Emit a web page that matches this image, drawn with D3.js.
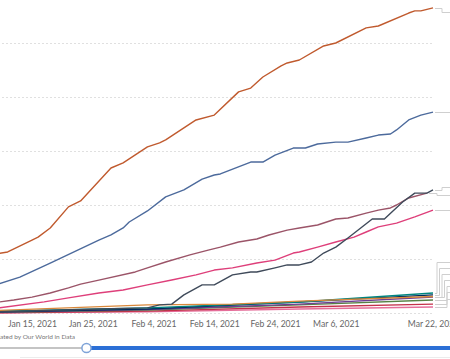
<!DOCTYPE html>
<html><head><meta charset="utf-8">
<script src="https://cdn.jsdelivr.net/npm/d3@7"></script>
<style>html,body{margin:0;padding:0;background:#fff;overflow:hidden}svg{display:block}</style>
</head><body><svg id="c" width="450" height="359"></svg>
<script>
// ---- data (millions of doses) ----
const tickDates = ["2021-01-15","2021-01-25","2021-02-04","2021-02-14","2021-02-24","2021-03-06","2021-03-22"];
const yGridValues = [0,20,40,60,80,100];
const footerText = "Source: Official data collated by Our World in Data";

const unitedStates = [["2021-01-09",21.9],["2021-01-11",22.6],["2021-01-15",27.0],["2021-01-16",28.1],["2021-01-18",31.5],["2021-01-21",39.3],["2021-01-23",41.5],["2021-01-28",53.7],["2021-01-30",55.6],["2021-02-03",61.5],["2021-02-05",63.0],["2021-02-06",64.1],["2021-02-11",71.5],["2021-02-14",73.3],["2021-02-18",81.9],["2021-02-20",83.3],["2021-02-22",87.4],["2021-02-25",91.5],["2021-02-26",92.6],["2021-02-28",93.7],["2021-03-04",98.9],["2021-03-06",100.0],["2021-03-11",105.6],["2021-03-13",106.3],["2021-03-18",111.1],["2021-03-19",111.9],["2021-03-20",111.9],["2021-03-22",113.0]];
const china = [["2021-01-09",10.4],["2021-01-13",13.3],["2021-01-18",18.5],["2021-01-26",27.0],["2021-01-28",28.9],["2021-01-30",31.5],["2021-01-31",33.7],["2021-02-03",37.8],["2021-02-06",43.0],["2021-02-09",45.6],["2021-02-12",49.6],["2021-02-14",51.1],["2021-02-15",51.5],["2021-02-20",55.9],["2021-02-22",55.9],["2021-02-24",58.5],["2021-02-27",61.1],["2021-03-01",61.1],["2021-03-03",62.6],["2021-03-06",63.3],["2021-03-08",63.3],["2021-03-11",64.8],["2021-03-13",65.9],["2021-03-15",66.3],["2021-03-16",67.8],["2021-03-18",71.5],["2021-03-20",73.3],["2021-03-22",74.4]];
const europeanUnion = [["2021-01-09",3.9],["2021-01-12",4.8],["2021-01-15",5.9],["2021-01-18",7.4],["2021-01-21",9.3],["2021-01-23",10.7],["2021-01-26",12.2],["2021-02-01",15.2],["2021-02-03",16.7],["2021-02-06",18.9],["2021-02-10",21.5],["2021-02-13",23.3],["2021-02-15",24.4],["2021-02-18",26.3],["2021-02-21",27.4],["2021-02-23",28.9],["2021-02-26",30.7],["2021-02-28",31.5],["2021-03-03",32.6],["2021-03-06",34.8],["2021-03-08",35.2],["2021-03-11",37.0],["2021-03-13",38.1],["2021-03-15",38.9],["2021-03-16",40.0],["2021-03-18",42.6],["2021-03-21",44.4]];
const india = [["2021-01-09",0.4],["2021-01-26",1.5],["2021-02-03",1.9],["2021-02-05",3.0],["2021-02-07",3.3],["2021-02-09",6.7],["2021-02-12",10.4],["2021-02-14",10.4],["2021-02-17",14.1],["2021-02-20",15.2],["2021-02-21",15.2],["2021-02-24",16.7],["2021-02-26",17.8],["2021-02-28",17.8],["2021-03-02",18.9],["2021-03-04",22.2],["2021-03-06",24.4],["2021-03-08",27.8],["2021-03-12",34.8],["2021-03-14",34.8],["2021-03-17",41.1],["2021-03-19",44.4],["2021-03-21",44.4],["2021-03-22",45.6]];
const unitedKingdom = [["2021-01-09",1.7],["2021-01-17",4.1],["2021-01-21",5.6],["2021-01-26",7.4],["2021-01-30",8.5],["2021-02-03",10.4],["2021-02-07",12.2],["2021-02-11",14.1],["2021-02-14",15.9],["2021-02-17",16.7],["2021-02-21",18.5],["2021-02-24",19.6],["2021-02-27",22.2],["2021-02-28",22.6],["2021-03-03",24.4],["2021-03-06",26.3],["2021-03-09",28.1],["2021-03-11",30.0],["2021-03-13",31.9],["2021-03-16",33.3],["2021-03-19",35.6],["2021-03-22",38.1]];
const brazil  = [["2021-01-09",0.6],["2021-02-03",1.9],["2021-02-28",4.1],["2021-03-22",7.4]];
const germany = [["2021-01-09",0.4],["2021-02-03",1.5],["2021-02-28",4.1],["2021-03-22",6.7]];
const turkey  = [["2021-01-09",0.9],["2021-02-03",3.0],["2021-02-17",3.3],["2021-02-28",4.4],["2021-03-22",6.1]];
const france  = [["2021-01-09",0.3],["2021-02-03",1.3],["2021-02-28",3.3],["2021-03-22",5.9]];
const russia  = [["2021-01-09",0.2],["2021-02-03",1.1],["2021-02-28",3.0],["2021-03-22",4.8]];
const italy   = [["2021-01-09",0.1],["2021-02-03",0.7],["2021-02-28",2.2],["2021-03-22",3.3]];
const israel  = [["2021-01-09",0.05],["2021-02-03",0.4],["2021-02-28",1.5],["2021-03-22",2.2]];

const seriesList = [
  {name:"Israel", data:israel, color:"#e56e9a"},
  {name:"Italy", data:italy, color:"#c4314b"},
  {name:"Russia", data:russia, color:"#578145"},
  {name:"France", data:france, color:"#6d3e91"},
  {name:"Germany", data:germany, color:"#00295b"},
  {name:"Brazil", data:brazil, color:"#00847e"},
  {name:"Turkey", data:turkey, color:"#d9883b"},
  {name:"United Kingdom", data:unitedKingdom, color:"#de3f7a"},
  {name:"European Union", data:europeanUnion, color:"#9b5468"},
  {name:"India", data:india, color:"#3f4a5a"},
  {name:"China", data:china, color:"#4c6a9c"},
  {name:"United States", data:unitedStates, color:"#c05a2e"}
];

// ---- layout ----
const parse = d3.utcParse("%Y-%m-%d");
const x = d3.scaleUtc().domain([parse("2021-01-15"), parse("2021-03-22")]).range([32, 433]);
const y = d3.scaleLinear().domain([0, 100]).range([313, 43]);
const svg = d3.select("#c");
const font = "Lato, 'Noto Sans', sans-serif";

// gridlines
svg.append("g").selectAll("line").data(yGridValues).join("line")
  .attr("x1", -10).attr("x2", x(parse("2021-03-22")))
  .attr("y1", d => y(d) + 0.5).attr("y2", d => y(d) + 0.5)
  .attr("stroke", "#e0e0e0").attr("stroke-dasharray", "2,2").attr("stroke-width", 1);

// x axis labels
const xAxis = d3.axisBottom(x).tickValues(tickDates.map(parse)).tickFormat(d3.utcFormat("%b %-d, %Y")).tickSize(0).tickPadding(6);
const gx = svg.append("g").attr("transform", "translate(0,315)").call(xAxis);
gx.select(".domain").remove();
gx.selectAll("text").attr("font-family", font).attr("font-size", 8.6).attr("fill", "#666");

// leader lines for the (cropped) end labels
const endPt = s => { const l = s.data[s.data.length - 1]; return [x(parse(l[0])), y(l[1])]; };
const leaders = {
  "United States": {ly: 12, sx: 442}, "China": {ly: null}, "India": {ly: 187, sx: 442},
  "European Union": {ly: 195, sx: 437}, "United Kingdom": {ly: null},
  "Brazil": {ly: 262, sx: 437}, "Germany": {ly: 268, sx: 439.5}, "Turkey": {ly: 274, sx: 442},
  "France": {ly: 280, sx: 444.5}, "Russia": {ly: 286, sx: 447}, "Italy": {ly: 292, sx: 447}, "Israel": {ly: 299, sx: 447}
};
const gl = svg.append("g").attr("fill", "none").attr("stroke", "#cfcfcf").attr("stroke-width", 1);
seriesList.forEach(s => {
  const [ex, ey] = endPt(s);
  const L = leaders[s.name];
  let pts;
  if (L.ly === null) pts = [[ex + 2, ey], [452, ey]];
  else pts = [[ex + 2, ey], [L.sx, ey], [L.sx, L.ly], [452, L.ly]];
  gl.append("path").attr("d", d3.line()(pts.map(p => [p[0], Math.round(p[1]) + 0.5])));
});

// series lines
const line = d3.line().x(d => x(parse(d[0]))).y(d => y(d[1]));
svg.append("g").selectAll("path").data(seriesList).join("path")
  .attr("d", s => line(s.data)).attr("fill", "none")
  .attr("stroke", s => s.color).attr("stroke-width", 1.4).attr("stroke-linejoin", "round");

// footer (cropped on the left, as in the reference)
svg.append("text").attr("x", 75).attr("y", 339).attr("text-anchor", "end")
  .attr("font-family", font).attr("font-size", 6.5).attr("fill", "#777").text(footerText);

// timeline slider
const sY = 348, handleX = 86.5;
svg.append("line").attr("x1", -5).attr("x2", handleX).attr("y1", sY).attr("y2", sY).attr("stroke", "#c4c4c4").attr("stroke-width", 2);
svg.append("line").attr("x1", handleX).attr("x2", 455).attr("y1", sY).attr("y2", sY).attr("stroke", "#2b6fd6").attr("stroke-width", 4);
svg.append("circle").attr("cx", handleX).attr("cy", sY).attr("r", 4.6).attr("fill", "#fff").attr("stroke", "#7ea3d8").attr("stroke-width", 1.5);
svg.append("line").attr("x1", 20).attr("x2", 450).attr("y1", 357.5).attr("y2", 357.5).attr("stroke", "#ececec").attr("stroke-width", 1);
</script></body></html>
